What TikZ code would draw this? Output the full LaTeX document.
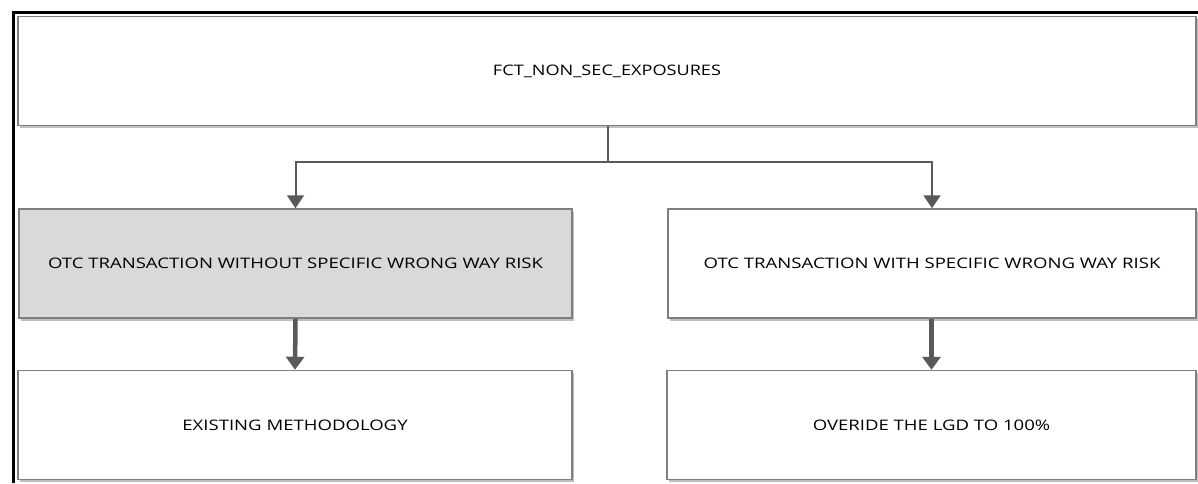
\documentclass[tikz,border=0pt]{standalone}
\usepackage{fontspec}
\setmainfont{Open Sans}
\newfontfamily\widefont[FakeStretch=1.28]{Open Sans}
\newfontfamily\topfont[FakeStretch=1.25]{Open Sans}
\usetikzlibrary{arrows.meta,shadows}
\definecolor{boxline}{HTML}{7F7F7F}
\definecolor{conn}{HTML}{595959}
\definecolor{fillgray}{HTML}{D9D9D9}
\definecolor{shadowgray}{HTML}{BFBFBF}
\begin{document}
\begin{tikzpicture}[x=1pt,y=-1pt,
  boxnode/.style={draw=boxline,line width=1.5pt,fill=white,minimum height=109pt,
    inner sep=0pt,font=\widefont\fontsize{14.5}{17}\selectfont,text=black,
    drop shadow={shadow xshift=2pt,shadow yshift=-2.5pt,fill=shadowgray,opacity=1}},
  connline/.style={draw=conn,line width=2pt},
  connarrow/.style={draw=conn,line width=2pt,-{Triangle[length=13pt,width=17pt]}},
  thickarrow/.style={draw=conn,line width=4.5pt,-{Triangle[length=13pt,width=18pt]}}]
\useasboundingbox (0,0) rectangle (1198,483);
\fill[white] (0,0) rectangle (1198,483);
% frame
\draw[line width=3pt,black] (1198,12) -- (13,12) -- (13,483);
% boxes
\node[boxnode,minimum width=1178pt,font=\topfont\fontsize{14.5}{17}\selectfont] (top) at (607,71) {FCT\_NON\_SEC\_EXPOSURES};
\node[boxnode,fill=fillgray,minimum width=553pt] (ml) at (295.5,263.5) {OTC TRANSACTION WITHOUT SPECIFIC WRONG WAY RISK};
\node[boxnode,minimum width=528pt] (mr) at (932,263.5) {OTC TRANSACTION WITH SPECIFIC WRONG WAY RISK};
\node[boxnode,minimum width=554pt] (bl) at (295,425) {EXISTING METHODOLOGY};
\node[boxnode,minimum width=529pt] (br) at (931.5,425) {OVERIDE THE LGD TO 100\%};
% connectors
\coordinate (split) at (608,162);
\draw[connline] (top.south -| split) -- (split);
\draw[connarrow] (split) -| (ml.north);
\draw[connarrow] (split) -| (mr.north);
\draw[thickarrow] (ml.south) -- (bl.north);
\draw[thickarrow] (mr.south -| br.north) -- (br.north);
\end{tikzpicture}
\end{document}
